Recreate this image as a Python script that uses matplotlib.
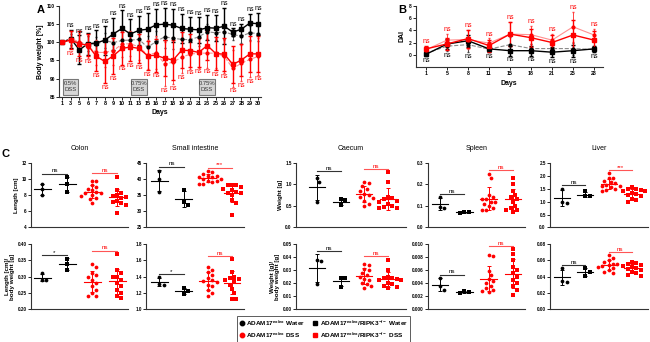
import numpy as np
import matplotlib
matplotlib.use('Agg')
import matplotlib.pyplot as plt
from matplotlib.patches import Rectangle
from matplotlib.lines import Line2D

plt.rcParams['font.family'] = ['Liberation Sans', 'DejaVu Sans']
plt.rcParams['font.weight'] = 'bold'
plt.rcParams['axes.labelweight'] = 'bold'
plt.rcParams['axes.linewidth'] = 0.8
plt.rcParams['axes.edgecolor'] = '#333333'

RED = '#ff0000'
PINK = '#ff9090'
GRAY = '#8a8a8a'

# ---- panel A: body weight [%] ----
days_a = [1, 3, 5, 6, 7, 8, 9, 10, 11, 13, 15, 16, 17, 18, 19, 20, 21, 23, 25, 26, 27, 28, 29, 30]
bw_wt_water = [100, 100.7, 99.9, 99.6, 99.4, 100.5, 99.9, 100.5, 100.6, 100.8, 98.6, 100.2,
               101.5, 101.1, 100.8, 100.7, 101.5, 102.9, 102.6, 102.9, 102.1, 101.7, 102.6, 102.4]
bw_wt_water_sd = [0, 1.5, 2, 2, 2, 2, 2.5, 2.5, 2, 2, 3, 3, 3, 3, 2.5, 2.5, 2.5, 2, 2, 2, 1.5, 2, 2, 2]
bw_ko_water = [100, 101, 97.9, 99.6, 99.8, 100.6, 102.3, 103.8, 102.3, 103.3, 103.6, 104.8,
               105, 104.7, 103.8, 103.6, 103.4, 104, 103.9, 104.4, 102.8, 103.6, 105.3, 105.1]
bw_ko_water_sd = [0, 2.5, 4, 3, 3.5, 4, 4.5, 5, 4, 4, 4.5, 4.5, 4.5, 4.5, 4, 3.5, 3.5, 3.5, 3.5, 5, 1, 1.5, 2.5, 3]
bw_wt_dss = [100, 101, 100.1, 98.8, 97.2, 97.2, 97.7, 99.5, 99.6, 98.7, 96.5, 97.1,
             94, 94.5, 95.9, 96.7, 97, 97, 97, 96.1, 92.8, 94.2, 95.3, 96.1]
bw_wt_dss_sd = [0, 2, 2.5, 3, 3.5, 4, 4, 3.5, 3.5, 3.5, 4, 4.5, 6, 6, 4.5, 4, 4, 4, 4, 4.5, 5, 5, 5, 5]
bw_ko_dss = [100, 100.6, 99.6, 99.2, 96.1, 94.7, 96.3, 98.3, 98.7, 98.3, 96.3, 96.4,
             95.6, 95.1, 97.8, 97.7, 97.2, 99.1, 96.9, 96.7, 93.9, 95.1, 96.8, 96.8]
bw_ko_dss_sd = [0, 2.5, 3.5, 3, 4, 6, 5, 4.5, 4, 4, 4, 4.5, 5, 5.5, 5, 4.5, 4, 4, 4.5, 4.5, 5, 4.5, 5, 5]
dss_start = [1, 11, 21]
dss_label = ['0.5%\nDSS', '0.75%\nDSS', '0.75%\nDSS']

# ---- panel B: DAI ----
days_b = [1, 5, 8, 11, 15, 18, 21, 25, 28]
dai_wt_water = [0.2, 1.4, 1.65, 0.9, 1.65, 1.0, 1.0, 1.0, 0.85]
dai_wt_water_sd = [0.3, 0.8, 1.2, 0.5, 1.2, 0.8, 0.8, 1.0, 0.5]
dai_ko_water = [0.05, 1.75, 2.3, 0.95, 0.65, 0.65, 0.4, 0.65, 0.95]
dai_ko_water_sd = [0.3, 0.8, 1.0, 0.6, 0.8, 0.8, 0.8, 1.0, 0.5]
dai_wt_dss = [0.8, 2.4, 2.5, 1.9, 3.4, 3.3, 2.4, 4.6, 3.25]
dai_wt_dss_sd = [0.5, 1.0, 1.5, 0.8, 2.0, 1.5, 1.0, 2.5, 1.0]
dai_ko_dss = [0.94, 1.77, 2.65, 1.5, 3.4, 2.8, 2.0, 3.25, 2.4]
dai_ko_dss_sd = [0.5, 1.0, 1.5, 1.0, 2.0, 1.5, 1.2, 2.5, 1.5]

# ---- panel C: organ measurements, groups = WT water, KO water, WT DSS, KO DSS ----
organs = ['Colon', 'Small intestine', 'Caecum', 'Spleen', 'Liver']
colon_len = [[9.4, 8.8, 8.0], [10.2, 9.4, 8.4],
             [9.8, 9.7, 9.2, 9.0, 8.8, 8.6, 8.4, 8.3, 8.2, 8.0, 7.9, 7.6, 7.5, 7.0],
             [10.3, 8.6, 8.2, 8.0, 7.9, 7.8, 7.6, 7.3, 7.2, 7.0, 6.8, 5.8]]
si_len = [[42.5, 40, 36], [36.5, 33, 32],
          [42.5, 42, 41.5, 41, 41, 40.5, 40.5, 40, 40, 39.5, 39.5, 39, 38.5, 38.5],
          [38, 38, 38, 37.5, 37, 36.5, 36, 35.5, 35.5, 35, 33.5, 32.5, 29]]
caecum_w = [[1.15, 1.05, 0.6], [0.65, 0.63, 0.52],
            [1.05, 1.02, 0.95, 0.9, 0.85, 0.78, 0.75, 0.7, 0.68, 0.62, 0.55, 0.5],
            [1.28, 1.05, 0.7, 0.68, 0.65, 0.62, 0.6, 0.55, 0.5, 0.48, 0.45, 0.45]]
spleen_w = [[0.14, 0.095, 0.09], [0.073, 0.07, 0.068],
            [0.25, 0.23, 0.15, 0.14, 0.13, 0.13, 0.12, 0.12, 0.11, 0.1, 0.09, 0.08, 0.08],
            [0.23, 0.2, 0.17, 0.15, 0.14, 0.13, 0.12, 0.1, 0.09, 0.08, 0.08, 0.07]]
liver_w = [[1.5, 1.0, 0.95], [1.4, 1.22, 1.2],
           [2.1, 1.9, 1.9, 1.8, 1.75, 1.7, 1.65, 1.6, 1.6, 1.55, 1.5, 1.45, 1.4],
           [1.55, 1.5, 1.5, 1.45, 1.4, 1.4, 1.35, 1.3, 1.25, 1.2, 1.1, 1.05, 1.0]]
colon_rel = [[0.31, 0.29, 0.29], [0.355, 0.34, 0.32],
             [0.34, 0.33, 0.31, 0.305, 0.30, 0.29, 0.28, 0.27, 0.26, 0.25, 0.24, 0.24],
             [0.37, 0.32, 0.31, 0.30, 0.30, 0.29, 0.28, 0.27, 0.26, 0.25, 0.24, 0.235]]
si_rel = [[1.39, 1.31, 1.29], [1.26, 1.22, 1.18],
          [1.52, 1.48, 1.45, 1.42, 1.38, 1.36, 1.35, 1.33, 1.3, 1.28, 1.24, 1.2, 1.16],
          [1.61, 1.45, 1.4, 1.38, 1.37, 1.36, 1.34, 1.3, 1.25, 1.2, 1.12, 1.12]]
caecum_rel = [[0.038, 0.037, 0.019], [0.024, 0.024, 0.017],
              [0.035, 0.034, 0.031, 0.03, 0.028, 0.026, 0.025, 0.023, 0.022, 0.02, 0.019, 0.018, 0.016],
              [0.038, 0.03, 0.025, 0.024, 0.024, 0.023, 0.022, 0.022, 0.02, 0.019, 0.018, 0.017, 0.016]]
spleen_rel = [[0.0048, 0.0035, 0.003], [0.0027, 0.0026, 0.0025],
              [0.0083, 0.0081, 0.0058, 0.0052, 0.0046, 0.0043, 0.004, 0.0036, 0.0033, 0.003, 0.0028, 0.0026],
              [0.0092, 0.0085, 0.0075, 0.0065, 0.006, 0.0055, 0.005, 0.0045, 0.004, 0.0035, 0.003, 0.0022]]
liver_rel = [[0.05, 0.035, 0.033], [0.05, 0.046, 0.041],
             [0.066, 0.063, 0.06, 0.058, 0.056, 0.055, 0.054, 0.053, 0.052, 0.05, 0.048, 0.046, 0.044],
             [0.058, 0.057, 0.055, 0.054, 0.053, 0.052, 0.05, 0.049, 0.048, 0.046, 0.044, 0.042, 0.041]]
sig_top = [('ns', 'ns'), ('ns', '***'), ('ns', 'ns'), ('ns', 'ns'), ('ns', '***')]
sig_bottom = [('*', 'ns'), ('*', 'ns'), ('ns', 'ns'), ('ns', 'ns'), ('ns', 'ns')]

legend_labels = [r'ADAM17$^{\mathregular{ex/ex}}$ Water',
                 r'ADAM17$^{\mathregular{ex/ex}}$ DSS',
                 r'ADAM17$^{\mathregular{ex/ex}}$/RIPK3$^{\mathregular{-/-}}$ Water',
                 r'ADAM17$^{\mathregular{ex/ex}}$/RIPK3$^{\mathregular{-/-}}$ DSS']

group_colors = ['black', 'black', RED, RED]
group_markers = ['o', 's', 'o', 's']


def style(ax):
    for s in ['top', 'right']:
        ax.spines[s].set_visible(False)
    ax.tick_params(length=2, width=0.6, labelsize=3.8, pad=1)


def swarm(vals, yrange, hpx=65.0, wpx=24.0, d=4.4):
    # simple beeswarm: offsets in px, converted to x units
    ys = np.asarray(vals) / yrange * hpx
    offs = np.zeros(len(ys))
    placed = []
    cands = [0.0]
    for k in range(1, 10):
        cands += [k * d * 0.5, -k * d * 0.5]
    for i in np.argsort(-ys):
        for c in cands:
            if all((ys[i] - ys[j]) ** 2 + (c - offs[j]) ** 2 >= d * d for j in placed):
                offs[i] = c
                break
        placed.append(i)
    return offs / wpx


fig = plt.figure(figsize=(6.5, 3.42), dpi=100)

# ---------------- A ----------------
axA = fig.add_axes([0.0912, 0.7173, 0.3103, 0.2652])
style(axA)
xa = np.arange(len(days_a))
axA.errorbar(xa, bw_wt_water, yerr=bw_wt_water_sd, color=GRAY, ls='--', lw=0.8, marker='o', ms=2,
             mfc='black', mec='black', ecolor='#444444', elinewidth=0.7, capsize=1)
axA.errorbar(xa, bw_ko_water, yerr=bw_ko_water_sd, color='black', ls='-', lw=1, marker='s', ms=2.6,
             elinewidth=1.0, capsize=1.3)
axA.errorbar(xa, bw_wt_dss, yerr=bw_wt_dss_sd, color=PINK, ls='--', lw=0.8, marker='o', ms=2,
             mfc=RED, mec=RED, ecolor='#ff4040', elinewidth=0.7, capsize=1)
axA.errorbar(xa, bw_ko_dss, yerr=bw_ko_dss_sd, color=RED, ls='-', lw=1, marker='s', ms=2.6,
             elinewidth=1.0, capsize=1.3)
top_a = np.maximum(np.add(bw_wt_water, bw_wt_water_sd), np.add(bw_ko_water, bw_ko_water_sd))
bot_a = np.minimum(np.subtract(bw_wt_dss, bw_wt_dss_sd), np.subtract(bw_ko_dss, bw_ko_dss_sd))
for i in xa[1:]:
    axA.text(i, top_a[i] + 0.2, 'ns', ha='center', va='bottom', fontsize=5, color='black', fontweight='normal')
    axA.text(i, bot_a[i] - 0.2, 'ns', ha='center', va='top', fontsize=5, color=RED, fontweight='normal')
for d0, lab in zip(dss_start, dss_label):
    i0 = days_a.index(d0)
    axA.add_patch(Rectangle((i0 + 0.04, 85.5), 1.85, 4.5, facecolor='#d6d6d6', edgecolor='#777777', lw=0.8))
    axA.text(i0 + 0.96, 87.75, lab, ha='center', va='center', fontsize=4.2, fontweight='normal', color='#333333')
axA.set_xlim(-0.35, 23.3)
axA.set_ylim(85, 110)
axA.set_xticks(xa)
axA.set_xticklabels([str(d) for d in days_a], fontsize=4)
axA.set_yticks([85, 90, 95, 100, 105, 110])
axA.tick_params(axis='y', labelsize=3.5)
axA.set_xlabel('Days', fontsize=5, labelpad=2)
axA.set_ylabel('Body weight [%]', fontsize=5, labelpad=2)
fig.text(0.057, 0.985, 'A', fontsize=8, fontweight='bold', va='top')

# ---------------- B ----------------
axB = fig.add_axes([0.6395, 0.805, 0.2877, 0.1766])
style(axB)
xb = np.arange(len(days_b))
axB.errorbar(xb, dai_wt_water, yerr=dai_wt_water_sd, color=GRAY, ls='--', lw=0.8, marker='o', ms=2,
             mfc='black', mec='black', ecolor='#444444', elinewidth=0.7, capsize=1)
axB.errorbar(xb, dai_ko_water, yerr=dai_ko_water_sd, color='black', lw=1, marker='s', ms=2.6,
             elinewidth=1.0, capsize=1.3)
axB.errorbar(xb, dai_wt_dss, yerr=dai_wt_dss_sd, color=PINK, ls='-', lw=0.8, marker='o', ms=2,
             mfc=RED, mec=RED, ecolor='#ff4040', elinewidth=0.7, capsize=1)
axB.errorbar(xb, dai_ko_dss, yerr=dai_ko_dss_sd, color=RED, lw=1, marker='s', ms=2.6,
             elinewidth=1.0, capsize=1.3)
top_b = np.maximum(np.add(dai_wt_dss, dai_wt_dss_sd), np.add(dai_ko_dss, dai_ko_dss_sd))
bot_b = np.minimum(np.subtract(dai_wt_water, dai_wt_water_sd), np.subtract(dai_ko_water, dai_ko_water_sd))
for i in xb:
    axB.text(i, top_b[i] + 0.1, 'ns', ha='center', va='bottom', fontsize=5, color=RED, fontweight='normal')
    axB.text(i, bot_b[i] - 0.15, 'ns', ha='center', va='top', fontsize=5, color='black', fontweight='normal')
axB.set_xlim(-0.49, 8.41)
axB.set_ylim(-2, 8)
axB.set_yticks([0, 2, 4, 6, 8])
axB.set_xticks(xb)
axB.set_xticklabels([str(d) for d in days_b], fontsize=3.8)
axB.tick_params(axis='y', labelsize=3.5)
axB.set_xlabel('Days', fontsize=5, labelpad=3)
axB.set_ylabel('DAI', fontsize=5, labelpad=2)
fig.text(0.612, 0.985, 'B', fontsize=8, fontweight='bold', va='top')

# ---------------- C ----------------
fig.text(0.003, 0.565, 'C', fontsize=8, fontweight='bold', va='top')
panel_px = [(31, 128, -0.44, 3.44), (146, 244, -0.55, 3.5), (296, 406, -0.89, 3.76),
            (428, 525, -0.49, 3.49), (550, 648, -0.52, 3.69)]
row_y = [(0.335, 0.189), (0.0965, 0.190)]
rows = [
    [(colon_len, (4, 12), [4, 6, 8, 10, 12], '{:.0f}', 'Length [cm]'),
     (si_len, (25, 45), [25, 30, 35, 40, 45], '{:.0f}', None),
     (caecum_w, (0, 1.5), [0, 0.5, 1.0, 1.5], '{:.1f}', 'Weight [g]'),
     (spleen_w, (0, 0.3), [0, 0.1, 0.2, 0.3], '{:.1f}', None),
     (liver_w, (0, 2.5), [0, 0.5, 1.0, 1.5, 2.0, 2.5], '{:.1f}', None)],
    [(colon_rel, (0.2, 0.4), [0.2, 0.25, 0.3, 0.35, 0.4], '{:.2f}', 'Length [cm]/\nbody weight [g]'),
     (si_rel, (1.0, 1.8), [1.0, 1.2, 1.4, 1.6, 1.8], '{:.1f}', None),
     (caecum_rel, (0, 0.05), [0, 0.01, 0.02, 0.03, 0.04, 0.05], '{:.2f}', 'Weight [g]/\nbody weight [g]'),
     (spleen_rel, (0, 0.01), [0, 0.002, 0.004, 0.006, 0.008, 0.010], '{:.3f}', None),
     (liver_rel, (0, 0.08), [0, 0.02, 0.04, 0.06, 0.08], '{:.2f}', None)],
]
sigs = [sig_top, sig_bottom]

for r, row in enumerate(rows):
    yb, hh = row_y[r]
    for c, (groups, ylim, ticks, fmt, ylab) in enumerate(row):
        x0, x1, xl0, xl1 = panel_px[c]
        ax = fig.add_axes([x0 / 650, yb, (x1 - x0) / 650, hh])
        style(ax)
        yr = ylim[1] - ylim[0]
        wpx = (x1 - x0) / (xl1 - xl0)
        tops = []
        for k, vals in enumerate(groups):
            v = np.array(vals)
            col = group_colors[k]
            off = swarm(v - ylim[0], yr, wpx=wpx)
            m, s = v.mean(), v.std(ddof=1)
            ax.plot([k - 0.34, k + 0.34], [m, m], color=col, lw=0.8)
            ax.errorbar(k, m, yerr=s, color=col, capsize=1.6, elinewidth=0.7, capthick=0.7)
            ax.plot(k + off, v, ls='none', marker=group_markers[k], color=col, ms=2.7, mew=0, clip_on=False)
            tops.append(max(v.max(), m + s))
        for p, (a, b) in enumerate([(0, 1), (2, 3)]):
            col = 'black' if p == 0 else RED
            lc = '#333333' if p == 0 else '#ff5555'
            yy = max(tops[a], tops[b]) + 0.05 * yr
            ax.plot([a, b], [yy, yy], color=lc, lw=0.8)
            ax.text((a + b) / 2, yy + 0.005 * yr, sigs[r][c][p], ha='center', va='bottom',
                    fontsize=4.5, color=col, fontweight='normal')
        ax.set_xlim(xl0, xl1)
        ax.set_ylim(*ylim)
        ax.set_xticks([])
        ax.set_yticks(ticks)
        ax.set_yticklabels([fmt.format(t) for t in ticks], fontsize=3.3)
        if ylab:
            ax.set_ylabel(ylab, fontsize=4.5, labelpad=2, linespacing=1.1)
        if r == 0:
            ax.set_title(organs[c], fontsize=5, fontweight='normal', pad=9)

# legend
handles = [Line2D([], [], ls='none', marker=mk, color=col, ms=3.2)
           for mk, col in [('o', 'black'), ('o', RED), ('s', 'black'), ('s', RED)]]
leg = fig.legend(handles, legend_labels, loc='center', bbox_to_anchor=(0.4977, 0.038), ncol=2,
                 fontsize=4.6, frameon=True, fancybox=False, edgecolor='#333333', handletextpad=0.3,
                 columnspacing=1.2, borderpad=0.4, handlelength=0.8, labelspacing=0.4)
leg.get_frame().set_linewidth(0.7)

fig.savefig('out.png', dpi=100)
